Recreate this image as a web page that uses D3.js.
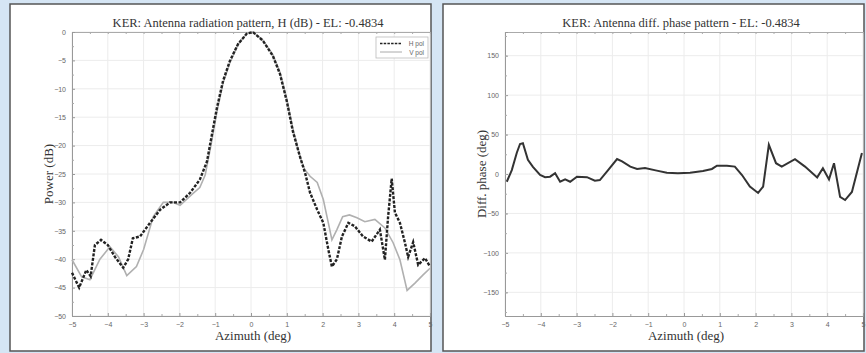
<!DOCTYPE html>
<html>
<head>
<meta charset="utf-8">
<script src="https://cdn.jsdelivr.net/npm/d3@7"></script>
<style>
  body { margin: 0; background: #d5e5f4; }
  svg { display: block; }
  .tick text { font-family: "Liberation Sans", sans-serif; font-size: 7px; fill: #666; }
  .title, .label { font-family: "Liberation Serif", serif; fill: #333; }
</style>
</head>
<body>
<div id="chart"></div>
<script>
// azimuth (deg) and power (dB), H pol
const hAz = [-5, -4.8, -4.6, -4.48, -4.36, -4.19, -4.0, -3.8, -3.57, -3.43, -3.3, -3.1, -2.82, -2.54, -2.26, -1.98,
  -1.7, -1.43, -1.23, -1.09, -0.95, -0.78, -0.59, -0.36, -0.12, 0.05, 0.33, 0.61, 0.81, 1.0, 1.17, 1.37, 1.51, 1.65,
  1.85, 2.02, 2.16, 2.26, 2.4, 2.54, 2.72, 2.9, 3.13, 3.37, 3.6, 3.74, 3.83, 3.93, 4.02, 4.16, 4.3, 4.39, 4.53, 4.67, 4.86, 5.0];
const hPow = [-42.4, -45, -41.9, -43, -37.5, -36.6, -37.5, -39.6, -41.5, -40, -36.3, -36, -33.6, -31.3, -30, -30,
  -28.3, -26, -22.8, -18, -13.3, -8.6, -5.1, -2.1, -0.3, 0, -1.5, -4.2, -7.4, -12.2, -17.5, -22, -24.8, -28.3,
  -31.3, -33.6, -38.3, -41.3, -40, -36, -33.6, -34.2, -36, -36.9, -34.8, -40.1, -32.5, -25.8, -31.8, -33.6, -37.1, -39.6, -37, -41, -39.8, -41.3];

// azimuth (deg) and power (dB), V pol
const vAz = [-5, -4.73, -4.5, -4.22, -3.94, -3.7, -3.47, -3.2, -3.0, -2.73, -2.45, -2.17, -1.98, -1.65, -1.43, -1.28,
  -1.12, -0.95, -0.78, -0.59, -0.36, -0.12, 0.05, 0.33, 0.61, 0.81, 1.0, 1.17, 1.37, 1.5, 1.65, 1.85, 2.02, 2.16,
  2.26, 2.4, 2.56, 2.75, 2.96, 3.18, 3.46, 3.74, 3.97, 4.16, 4.36, 4.58, 4.8, 5.0];
const vPow = [-40.1, -43.1, -43.6, -40, -37.8, -39.6, -42.9, -41.3, -38.3, -32.5, -30, -30, -30.5, -28.6, -27.4, -25.2,
  -20, -14, -9, -5.4, -2.2, -0.3, 0, -1.4, -4.0, -7.1, -11.8, -17, -22, -24.2, -25.4, -26.5, -29.5, -33.6,
  -36.6, -34.8, -32.5, -32.2, -32.7, -33.4, -33, -34.5, -37.1, -40.1, -45.5, -44.2, -42.8, -41.6];

// azimuth (deg) and differential phase (deg)
const phAz = [-4.95, -4.81, -4.67, -4.58, -4.5, -4.36, -4.22, -4.02, -3.88, -3.74, -3.6, -3.46, -3.32, -3.18, -2.99,
  -2.71, -2.49, -2.35, -2.12, -1.87, -1.73, -1.5, -1.31, -1.09, -0.76, -0.48, -0.17, 0.17, 0.53, 0.78, 0.92, 1.2,
  1.42, 1.62, 1.84, 2.07, 2.21, 2.37, 2.57, 2.73, 3.1, 3.38, 3.72, 3.88, 4.05, 4.19, 4.36, 4.5, 4.69, 4.97];
const phase = [-9.8, 5, 27, 38, 39, 18, 9, -1.3, -4, -3.4, 1, -9.8, -6.8, -9.8, -3.4,
  -4, -8.5, -7.7, 5, 19, 16, 9.4, 6.4, 7.7, 4.3, 1.7, 0.9, 1.7, 3.8, 6.4, 10.6, 10.6,
  9.4, -1.3, -16, -24, -16, 37, 13.7, 9.4, 18.8, 9.4, -4.3, 7.2, -6.8, 13.7, -29, -33, -22.7, 26.5];

const xTicks = [-5, -4, -3, -2, -1, 0, 1, 2, 3, 4, 5];
const powTicks = [0, -5, -10, -15, -20, -25, -30, -35, -40, -45, -50];
const phTicks = [150, 100, 50, 0, -50, -100, -150];

const W = 866, H = 353;
const svg = d3.select("#chart").append("svg").attr("width", W).attr("height", H);

function panel(px, title, yLabel, yDomain, yTicks, yMinor) {
  const left = px + 62, right = px + 420, top = 32, bottom = 316;
  const g = svg.append("g");

  g.append("rect")
    .attr("x", px).attr("y", 4).attr("width", 421).attr("height", 347)
    .attr("fill", "#fff").attr("stroke", "#555").attr("stroke-width", 1.5);

  const x = d3.scaleLinear().domain([-5, 5]).range([left, right]);
  const y = d3.scaleLinear().domain(yDomain).range([bottom, top]);

  // grid
  g.append("g").selectAll("line").data(xTicks).join("line")
    .attr("x1", d => x(d)).attr("x2", d => x(d)).attr("y1", top).attr("y2", bottom)
    .attr("stroke", "#ececec");
  g.append("g").selectAll("line").data(yTicks).join("line")
    .attr("x1", left).attr("x2", right).attr("y1", d => y(d)).attr("y2", d => y(d))
    .attr("stroke", "#ececec");

  // axes
  g.append("g")
    .attr("transform", `translate(0,${bottom})`)
    .call(d3.axisBottom(x).tickValues(xTicks).tickSize(-3).tickPadding(6).tickFormat(d3.format("d")))
    .call(a => a.select(".domain").attr("stroke", "#999"))
    .call(a => a.selectAll(".tick line").attr("stroke", "#999"));
  g.append("g")
    .attr("transform", `translate(0,${bottom})`)
    .call(d3.axisBottom(x).tickValues(d3.range(-4.5, 5, 1)).tickSize(-2).tickFormat(""))
    .call(a => a.select(".domain").remove())
    .call(a => a.selectAll(".tick line").attr("stroke", "#aaa"));
  g.append("g")
    .attr("transform", `translate(0,${top})`)
    .call(d3.axisTop(x).tickValues(d3.range(-5, 5.01, 0.5)).tickSize(-2).tickFormat(""))
    .call(a => a.select(".domain").attr("stroke", "#aaa"))
    .call(a => a.selectAll(".tick line").attr("stroke", "#aaa"));
  g.append("g")
    .attr("transform", `translate(${left},0)`)
    .call(d3.axisLeft(y).tickValues(yTicks).tickSize(-3).tickPadding(6).tickFormat(d3.format("d")))
    .call(a => a.select(".domain").attr("stroke", "#999"))
    .call(a => a.selectAll(".tick line").attr("stroke", "#999"));
  g.append("g")
    .attr("transform", `translate(${left},0)`)
    .call(d3.axisLeft(y).tickValues(yMinor).tickSize(-2).tickFormat(""))
    .call(a => a.select(".domain").remove())
    .call(a => a.selectAll(".tick line").attr("stroke", "#aaa"));

  g.append("text").attr("class", "title")
    .attr("x", px + 238).attr("y", 27).attr("text-anchor", "middle")
    .attr("font-size", 12.5).text(title);
  g.append("text").attr("class", "label")
    .attr("x", px + 243).attr("y", 340).attr("text-anchor", "middle")
    .attr("font-size", 13).text("Azimuth (deg)");
  g.append("text").attr("class", "label")
    .attr("transform", `translate(${px + 43},${(top + bottom) / 2}) rotate(-90)`)
    .attr("text-anchor", "middle").attr("font-size", 13).text(yLabel);

  return { g, x, y };
}

// left: radiation pattern
const p1 = panel(10, "KER: Antenna radiation pattern, H (dB) - EL: -0.4834", "Power (dB)",
  [-50, 0], powTicks, d3.range(-47.5, 0, 5));

const line1 = (az, val) => d3.line().x((d, i) => p1.x(az[i])).y(d => p1.y(d))(val);

p1.g.append("path").attr("d", line1(vAz, vPow))
  .attr("fill", "none").attr("stroke", "#b0b0b0").attr("stroke-width", 1.6);
p1.g.append("path").attr("d", line1(hAz, hPow))
  .attr("fill", "none").attr("stroke", "#222").attr("stroke-width", 2.4)
  .attr("stroke-dasharray", "3,1.5");

// legend
const lg = p1.g.append("g").attr("transform", "translate(376,37)");
lg.append("rect").attr("width", 52).attr("height", 21)
  .attr("fill", "#fff").attr("stroke", "#bbb").attr("stroke-width", 0.8);
lg.append("line").attr("x1", 4).attr("x2", 26).attr("y1", 6.5).attr("y2", 6.5)
  .attr("stroke", "#222").attr("stroke-width", 1.5).attr("stroke-dasharray", "2.5,1.2");
lg.append("line").attr("x1", 4).attr("x2", 26).attr("y1", 15).attr("y2", 15)
  .attr("stroke", "#aaa").attr("stroke-width", 1);
lg.append("text").attr("x", 48).attr("y", 9).attr("text-anchor", "end")
  .attr("font-family", "Liberation Sans, sans-serif").attr("font-size", 6.5).attr("fill", "#666").text("H pol");
lg.append("text").attr("x", 48).attr("y", 17.5).attr("text-anchor", "end")
  .attr("font-family", "Liberation Sans, sans-serif").attr("font-size", 6.5).attr("fill", "#666").text("V pol");

// right: differential phase
const p2 = panel(443, "KER: Antenna diff. phase pattern - EL: -0.4834", "Diff. phase (deg)",
  [-180, 180], phTicks, d3.range(-175, 180, 25));

p2.g.append("path")
  .attr("d", d3.line().x((d, i) => p2.x(phAz[i])).y(d => p2.y(d))(phase))
  .attr("fill", "none").attr("stroke", "#333").attr("stroke-width", 2);
</script>
</body>
</html>
